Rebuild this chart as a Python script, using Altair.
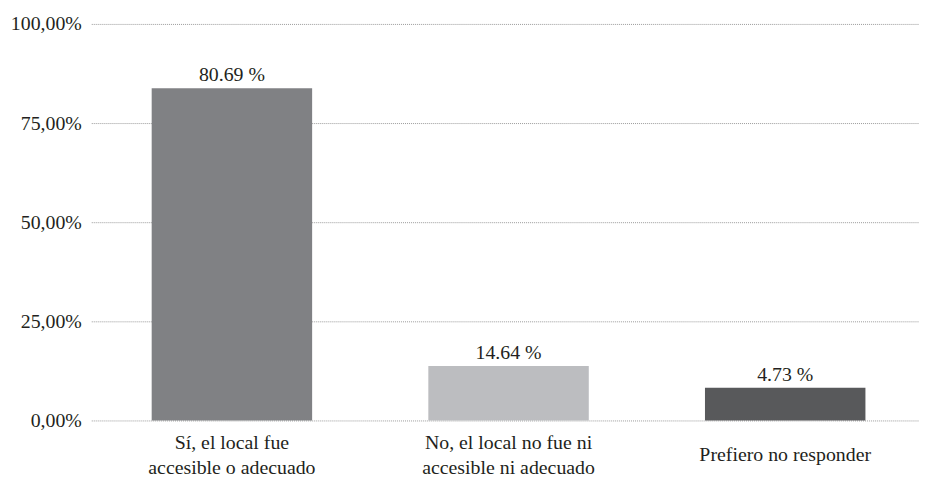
import altair as alt
import pandas as pd

categories = [
    "Sí, el local fue\naccesible o adecuado",
    "No, el local no fue ni\naccesible ni adecuado",
    "Prefiero no responder",
]
bar_values = [83.75, 13.75, 8.25]
value_labels = ["80.69 %", "14.64 %", "4.73 %"]
colors = ["#808184", "#bcbdc0", "#58595b"]
y_ticks = [0, 25, 50, 75, 100]

df = pd.DataFrame({"cat": categories, "value": bar_values, "label": value_labels})
df["nl"] = [c.count("\n") + 1 for c in categories]

FONT = "Liberation Serif"
TXT = "#231f20"
W, H = 835, 400
FS = 20

x_enc = alt.X("cat:N", sort=categories, axis=None,
              scale=alt.Scale(paddingInner=0.42, paddingOuter=0.206, align=0.53))

bars = alt.Chart(df).mark_bar().encode(
    x=x_enc,
    y=alt.Y("value:Q", title=None,
            scale=alt.Scale(domain=[0, 100], nice=False),
            axis=alt.Axis(values=y_ticks, grid=True, gridDash=[1, 1], gridColor="#9a9a9a",
                          gridWidth=1, domain=False, ticks=False, labelPadding=10,
                          labelFont=FONT, labelFontSize=FS, labelColor=TXT,
                          labelExpr="replace(format(datum.value/100, '.2%'), '.', ',')")),
    color=alt.Color("cat:N", sort=categories, legend=None,
                    scale=alt.Scale(domain=categories, range=colors)),
)

vals = alt.Chart(df).mark_text(font=FONT, fontSize=FS, color=TXT, baseline="alphabetic", dy=-7).encode(
    x=x_enc,
    y="value:Q",
    text="label:N",
)

cats = alt.Chart(df).mark_text(font=FONT, fontSize=FS, color=TXT, baseline="middle",
                               lineBreak="\n", lineHeight=25).encode(
    x=x_enc,
    y=alt.value(H + 23),
    yOffset=alt.YOffset("nl:Q", scale=alt.Scale(domain=[1, 2], range=[12, 0])),
    text="cat:N",
)

chart = alt.layer(bars, vals, cats).properties(
    width=W, height=H,
    autosize=alt.AutoSizeParams(type="none"),
    padding={"left": 84, "top": 14, "right": 0, "bottom": 58},
).configure(background="white").configure_view(stroke=None)

chart.save("out.html", embed_options={"renderer": "svg", "actions": False})
